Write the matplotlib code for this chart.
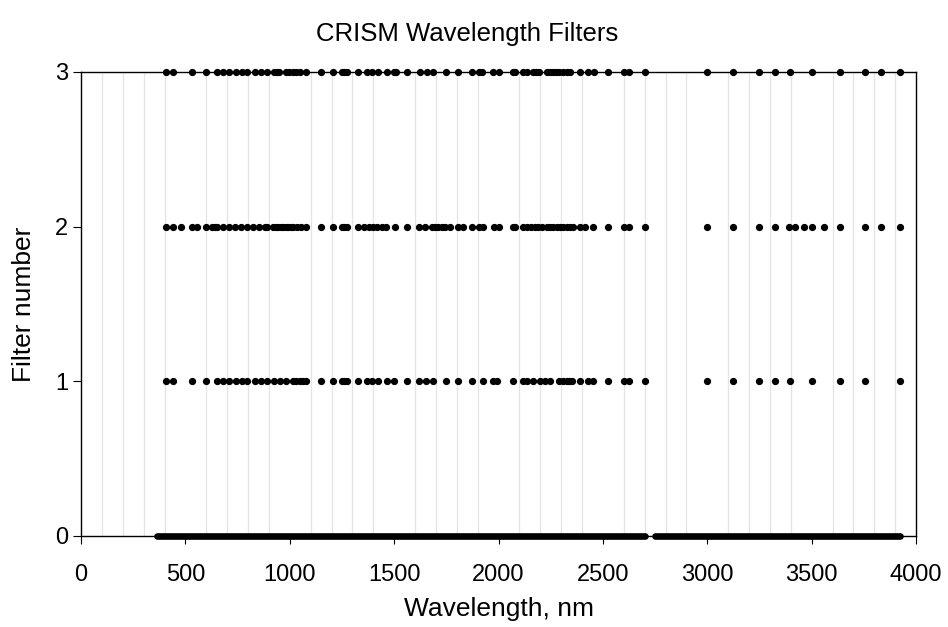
import matplotlib
matplotlib.use("Agg")
import matplotlib.pyplot as plt
import numpy as np

plt.rcParams['font.family'] = ['Liberation Sans', 'DejaVu Sans']

# Filter 3 wavelengths (nm)
filter3 = [407, 442, 530, 599, 650, 682, 710, 741, 773, 797, 834, 861, 890, 926, 937,
           950, 982, 998, 1014, 1030, 1049, 1078, 1150, 1209, 1249, 1261, 1276, 1326,
           1369, 1393, 1424, 1464, 1499, 1509, 1560, 1624, 1656, 1688, 1749, 1807, 1872,
           1907, 1920, 1972, 2004, 2068, 2081, 2119, 2135, 2164, 2180, 2195, 2231, 2247,
           2260, 2275, 2291, 2310, 2327, 2342, 2390, 2430, 2459, 2526, 2601, 2627, 2702,
           2997, 3125, 3249, 3323, 3396, 3502, 3636, 3756, 3831, 3923]

# Filter 2 wavelengths (nm)
filter2 = [407, 442, 477, 530, 554, 599, 626, 642, 653, 682, 710, 738, 766, 794, 822,
           854, 881, 893, 921, 934, 945, 958, 969, 982, 993, 1006, 1017, 1033, 1052,
           1078, 1150, 1209, 1249, 1261, 1273, 1326, 1356, 1380, 1400, 1420, 1440, 1461,
           1504, 1560, 1621, 1648, 1680, 1696, 1712, 1728, 1744, 1768, 1807, 1831, 1872,
           1907, 1924, 1978, 2004, 2068, 2081, 2116, 2135, 2154, 2175, 2191, 2207, 2231,
           2247, 2263, 2279, 2295, 2310, 2327, 2342, 2355, 2390, 2414, 2454, 2526, 2601,
           2627, 2702, 2997, 3125, 3249, 3323, 3393, 3420, 3464, 3502, 3561, 3636, 3756,
           3831, 3923]

# Filter 1 wavelengths (nm)
filter1 = [407, 442, 530, 599, 650, 682, 710, 741, 773, 797, 834, 861, 890, 926, 953,
           982, 1014, 1030, 1049, 1065, 1078, 1150, 1209, 1249, 1261, 1276, 1326, 1369,
           1393, 1424, 1464, 1499, 1560, 1621, 1653, 1685, 1749, 1807, 1872, 1924, 1972,
           1994, 2068, 2119, 2135, 2164, 2199, 2223, 2247, 2291, 2310, 2327, 2339, 2350,
           2390, 2427, 2454, 2526, 2601, 2627, 2702, 2997, 3125, 3249, 3323, 3396, 3502,
           3636, 3756, 3923]

# Filter 0: all channels, continuous coverage segments (start, end) in nm
filter0_start = [362, 2750]
filter0_end = [2702, 3923]

xticks = [0, 500, 1000, 1500, 2000, 2500, 3000, 3500, 4000]
yticks = [0, 1, 2, 3]

fig = plt.figure(figsize=(9.48, 6.27), dpi=100)
ax = fig.add_axes([81/948, 1-536/627, (916-81)/948, (536-72)/627])

ax.set_xlim(0, 4000)
ax.set_ylim(0, 3)

# vertical minor gridlines every 100 nm
ax.set_xticks(np.arange(0, 4001, 100), minor=True)
ax.grid(True, which='minor', axis='x', color='#e4e4e4', linewidth=0.9)
ax.set_axisbelow(True)
ax.tick_params(axis='x', which='minor', length=0)

for vals, yv in [(filter1, 1), (filter2, 2), (filter3, 3)]:
    ax.plot(vals, [yv]*len(vals), linestyle='none', marker='o', markersize=4.2,
            color='black', clip_on=False, zorder=3)

for s, e in zip(filter0_start, filter0_end):
    ax.plot([s, e], [0, 0], color='black', linewidth=4.8, solid_capstyle='round',
            clip_on=False, zorder=3)

ax.set_xticks(xticks)
ax.set_yticks(yticks)
ax.tick_params(axis='both', which='major', direction='out', length=6, width=0.8,
               labelsize=17, colors='black')
ax.tick_params(axis='y', pad=3)
ax.tick_params(axis='x', pad=14)
for sp in ax.spines.values():
    sp.set_linewidth(1.0)
    sp.set_color('black')

ax.set_xlabel('Wavelength, nm', fontsize=19, labelpad=8)
ax.set_ylabel('Filter number', fontsize=19, labelpad=14)
fig.suptitle('CRISM Wavelength Filters', fontsize=18.5, x=0.493, y=0.965)

fig.savefig('out.png', dpi=100)
